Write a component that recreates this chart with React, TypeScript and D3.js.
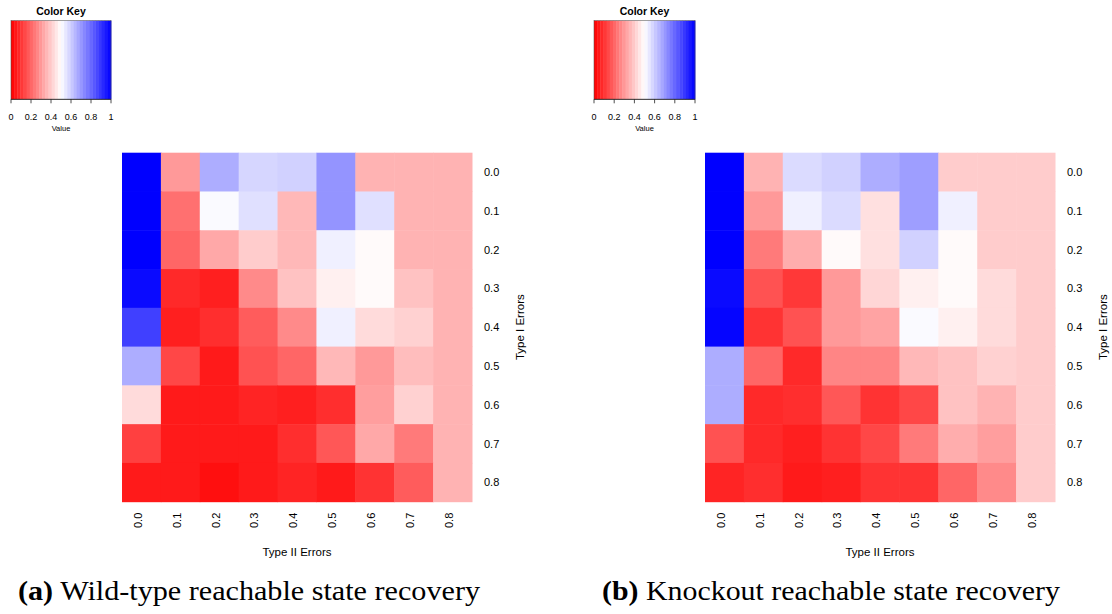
import React from 'react';
import * as d3 from 'd3';

// error rates used for both axes
const errorLabels = ['0.0', '0.1', '0.2', '0.3', '0.4', '0.5', '0.6', '0.7', '0.8'];

// rows = Type I errors (top to bottom), columns = Type II errors
const wildType = [
  [1.0, 0.3, 0.66, 0.58, 0.59, 0.71, 0.35, 0.35, 0.35],
  [1.0, 0.22, 0.51, 0.56, 0.36, 0.71, 0.56, 0.35, 0.35],
  [1.0, 0.2, 0.33, 0.4, 0.36, 0.53, 0.49, 0.35, 0.35],
  [0.98, 0.08, 0.06, 0.27, 0.38, 0.47, 0.49, 0.38, 0.35],
  [0.875, 0.06, 0.09, 0.18, 0.27, 0.53, 0.43, 0.41, 0.35],
  [0.66, 0.14, 0.05, 0.16, 0.2, 0.36, 0.3, 0.37, 0.35],
  [0.43, 0.05, 0.05, 0.07, 0.06, 0.09, 0.31, 0.41, 0.35],
  [0.125, 0.05, 0.05, 0.05, 0.09, 0.17, 0.33, 0.24, 0.35],
  [0.05, 0.05, 0.03, 0.05, 0.07, 0.05, 0.1, 0.18, 0.35],
];

const knockout = [
  [1.0, 0.35, 0.57, 0.59, 0.66, 0.69, 0.4, 0.4, 0.4],
  [1.0, 0.3, 0.53, 0.57, 0.44, 0.69, 0.53, 0.4, 0.4],
  [1.0, 0.24, 0.34, 0.49, 0.44, 0.59, 0.49, 0.4, 0.4],
  [0.98, 0.16, 0.11, 0.3, 0.42, 0.47, 0.49, 0.43, 0.4],
  [0.99, 0.1, 0.16, 0.3, 0.32, 0.51, 0.47, 0.43, 0.4],
  [0.66, 0.2, 0.08, 0.26, 0.26, 0.36, 0.38, 0.41, 0.4],
  [0.66, 0.08, 0.09, 0.17, 0.1, 0.14, 0.38, 0.35, 0.4],
  [0.16, 0.08, 0.06, 0.1, 0.14, 0.24, 0.34, 0.31, 0.4],
  [0.07, 0.09, 0.05, 0.06, 0.1, 0.1, 0.2, 0.27, 0.4],
];

const keyTicks = [0, 0.2, 0.4, 0.6, 0.8, 1];

const color = d3.scaleLinear<string>()
  .domain([0, 0.5, 1])
  .range(['#ff0000', '#ffffff', '#0000ff']);

const sans = 'Liberation Sans, Arial, sans-serif';

const ColorKey = ({ x0, x1 }: { x0: number; x1: number }) => {
  const top = 20.7, bottom = 99.3;
  const kx = d3.scaleLinear().domain([0, 1]).range([x0, x1]);
  const steps = d3.range(0, 1, 1 / 32);
  return (
    <g>
      <text x={(x0 + x1) / 2} y={11} fontFamily={sans} fontSize={10.5} fontWeight="bold"
        textAnchor="middle" dominantBaseline="central">Color Key</text>
      {steps.map(s => (
        <rect key={s} x={kx(s)} y={top} width={kx(1 / 32) - kx(0) + 0.4}
          height={bottom - top} fill={color(s + 1 / 64)} />
      ))}
      <rect x={x0} y={top} width={x1 - x0} height={bottom - top} fill="none" stroke="#444" strokeWidth={0.5} />
      <line x1={x0} x2={x1} y1={bottom} y2={bottom} stroke="#222" strokeWidth={0.8} />
      {keyTicks.map(t => (
        <g key={t}>
          <line x1={kx(t)} x2={kx(t)} y1={bottom} y2={bottom + 4} stroke="#222" strokeWidth={0.8} />
          <text x={kx(t)} y={116.7} fontFamily={sans} fontSize={9} textAnchor="middle"
            dominantBaseline="central">{String(t)}</text>
        </g>
      ))}
      <text x={(x0 + x1) / 2} y={128.5} fontFamily={sans} fontSize={7.5} textAnchor="middle"
        dominantBaseline="central">Value</text>
    </g>
  );
};

const Heatmap = ({ data, left, right }: { data: number[][]; left: number; right: number }) => {
  const top = 152.7, bottom = 501.7;
  const xs = d3.scaleBand().domain(errorLabels).range([left, right]);
  const ys = d3.scaleBand().domain(errorLabels).range([top, bottom]);
  return (
    <g>
      {data.map((row, i) => row.map((v, j) => (
        <rect key={`${i}-${j}`} x={xs(errorLabels[j])} y={ys(errorLabels[i])}
          width={xs.bandwidth() + 0.5} height={ys.bandwidth() + 0.5} fill={color(v)} />
      )))}
      {errorLabels.map(l => (
        <text key={'r' + l} x={right + 12} y={(ys(l) as number) + ys.bandwidth() / 2}
          fontFamily={sans} fontSize={11} dominantBaseline="central">{l}</text>
      ))}
      {errorLabels.map(l => {
        const cx = (xs(l) as number) + xs.bandwidth() / 2 - 3.7;
        return (
          <text key={'c' + l} transform={`translate(${cx},${bottom + 11}) rotate(-90)`}
            fontFamily={sans} fontSize={11} textAnchor="end" dominantBaseline="central">{l}</text>
        );
      })}
      <text x={(left + right) / 2} y={551.5} fontFamily={sans} fontSize={11.5}
        textAnchor="middle" dominantBaseline="central">Type II Errors</text>
      <text transform={`translate(${right + 48},${(top + bottom) / 2}) rotate(-90)`}
        fontFamily={sans} fontSize={11.5} textAnchor="middle" dominantBaseline="central">Type I Errors</text>
    </g>
  );
};

const serif = 'Liberation Serif, Times New Roman, serif';

export default function App() {
  return (
    <svg width={1112} height={614} style={{ position: 'absolute', left: 0, top: 0, background: '#fff' }}>
      <ColorKey x0={11} x1={111} />
      <ColorKey x0={594} x1={695} />
      <Heatmap data={wildType} left={122} right={472} />
      <Heatmap data={knockout} left={705} right={1055} />
      <text x={18} y={600} fontFamily={serif} fontSize={27} textLength={462} lengthAdjust="spacingAndGlyphs">
        <tspan fontWeight="bold">(a)</tspan> Wild-type reachable state recovery
      </text>
      <text x={602} y={600} fontFamily={serif} fontSize={27} textLength={458} lengthAdjust="spacingAndGlyphs">
        <tspan fontWeight="bold">(b)</tspan> Knockout reachable state recovery
      </text>
    </svg>
  );
}
